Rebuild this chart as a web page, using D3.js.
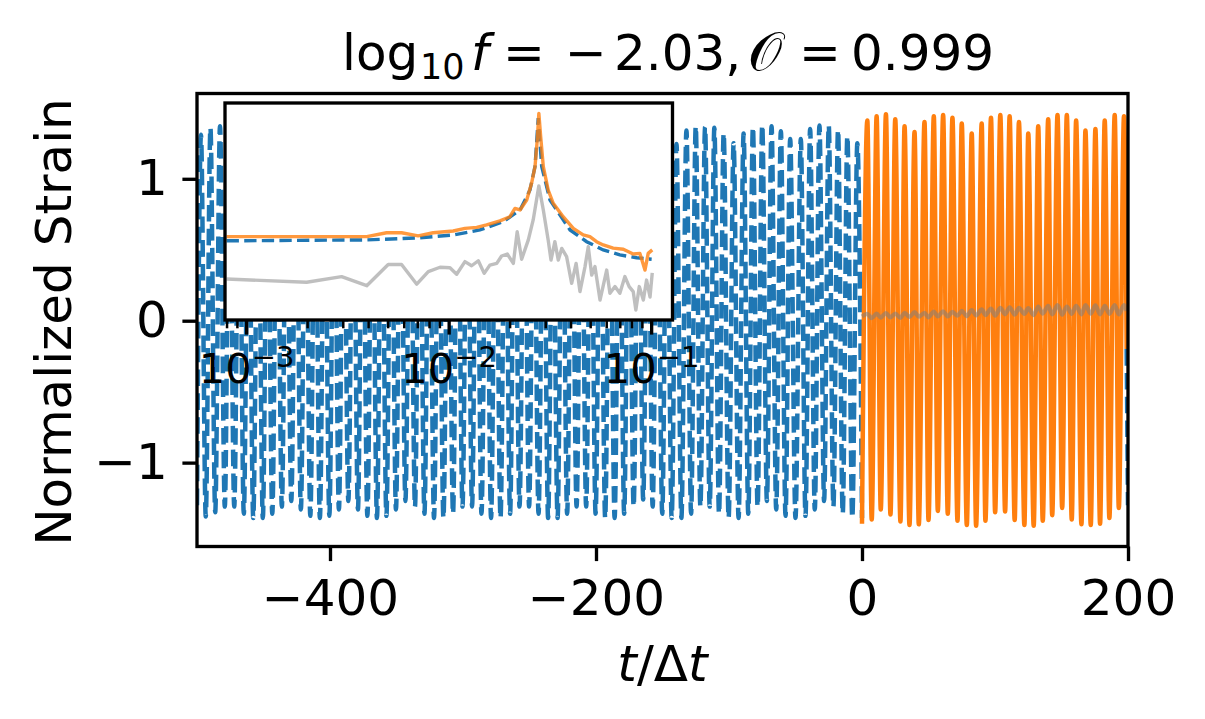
<!DOCTYPE html>
<html><head><meta charset="utf-8">
<script src="https://cdn.jsdelivr.net/npm/d3@7"></script>
<style>body{margin:0;background:#fff}svg{display:block}</style>
</head><body>
<svg id="c" width="1205" height="719"></svg>
<script>
// ---------------- data ----------------
const xTicks = [-400, -200, 0, 200];
const yTicks = [-1, 0, 1];
const insetMajorTicks = [1e-3, 1e-2, 1e-1];
const insetMajorExp = ["−3", "−2", "−1"];
const insetMinorTicks = [8e-4, 9e-4, 2e-3, 3e-3, 4e-3, 5e-3, 6e-3, 7e-3, 8e-3, 9e-3,
  2e-2, 3e-2, 4e-2, 5e-2, 6e-2, 7e-2, 8e-2, 9e-2];

// template (blue dashed): successive extrema [t, strain]
const blueExtrema = [[-500,-1.30],
[-497.0,1.31],[-493.4,-1.38],[-489.9,1.36],[-486.3,-1.35],[-482.7,1.37],[-479.1,-1.31],[-475.6,1.38],[-472.0,-1.31],
[-468.4,1.36],[-464.8,-1.36],[-461.3,1.32],[-457.7,-1.39],[-454.1,1.25],[-450.5,-1.39],[-447.0,1.32],[-443.4,-1.36],
[-439.8,1.36],[-436.2,-1.31],[-432.7,1.38],[-429.1,-1.27],[-425.5,1.375],[-421.9,-1.33],[-418.4,1.345],[-414.8,-1.375],
[-411.2,1.29],[-407.6,-1.39],[-404.1,1.29],[-400.5,-1.375],[-396.9,1.345],[-393.3,-1.33],[-389.8,1.375],[-386.2,-1.27],
[-382.6,1.375],[-379.0,-1.33],[-375.5,1.345],[-371.9,-1.375],[-368.3,1.29],[-364.7,-1.39],[-361.2,1.29],[-357.6,-1.375],
[-354.0,1.345],[-350.4,-1.33],[-346.9,1.375],[-343.3,-1.27],[-339.7,1.38],[-336.1,-1.31],[-332.6,1.36],[-329.0,-1.36],
[-325.4,1.32],[-321.8,-1.39],[-318.3,1.25],[-314.7,-1.39],[-311.1,1.32],[-307.5,-1.36],[-304.0,1.36],[-300.4,-1.31],
[-296.8,1.38],[-293.2,-1.31],[-289.7,1.36],[-286.1,-1.36],[-282.5,1.32],[-278.9,-1.39],[-275.4,1.25],[-271.8,-1.39],
[-268.2,1.32],[-264.6,-1.36],[-261.1,1.36],[-257.5,-1.31],[-253.9,1.38],[-250.3,-1.31],[-246.8,1.36],[-243.2,-1.36],
[-239.6,1.32],[-236.0,-1.39],[-232.5,1.25],[-228.9,-1.39],[-225.3,1.32],[-221.7,-1.36],[-218.2,1.36],[-214.6,-1.31],
[-211.0,1.38],[-207.4,-1.31],[-203.9,1.36],[-200.3,-1.36],[-196.7,1.32],[-193.1,-1.39],[-189.6,1.26],[-186.0,-1.39],
[-182.4,1.33],[-178.8,-1.36],[-175.3,1.365],[-171.7,-1.31],[-168.1,1.38],[-164.5,-1.26],[-161.0,1.38],[-157.4,-1.31],
[-153.8,1.36],[-150.2,-1.36],[-146.7,1.32],[-143.1,-1.39],[-139.5,1.245],[-135.8,-1.39],[-132,1.34],[-128.5,-1.36],
[-125,1.37],[-121.5,-1.31],[-118,1.365],[-114.5,-1.31],[-111,1.36],[-107.5,-1.36],[-104,1.32],[-100.3,-1.39],
[-96.5,1.25],[-92.8,-1.39],[-89,1.32],[-85.5,-1.36],[-82,1.365],[-78.5,-1.31],[-75,1.38],[-71.5,-1.27],
[-68,1.37],[-64.5,-1.33],[-61,1.335],[-57.5,-1.375],[-54,1.28],[-50,-1.39],[-46,1.28],[-42.5,-1.375],
[-39,1.35],[-35.5,-1.33],[-32,1.375],[-28.5,-1.27],[-25,1.375],[-21.5,-1.31],[-18,1.345],[-14.5,-1.36],
[-11,1.30],[-7.3,-1.39],[-3.5,1.25],[0,-1.39]];
const blueTail = [[199,-0.2],[200,-1.30]];

// prediction (orange): successive extrema [t, strain]
const orangeExtrema = [[0,-1.43],[4,1.41],[7.3,-1.40],[11,1.44],[14.1,-1.33],[18,1.455],[21.4,-1.365],[25,1.42],
[28.9,-1.415],[32,1.37],[35.7,-1.44],[39.5,1.33],[42.7,-1.435],[47,1.40],[50,-1.405],[54,1.44],[57,-1.34],[61,1.45],
[64.5,-1.36],[68,1.43],[71.8,-1.41],[75,1.39],[78.8,-1.44],[82.5,1.32],[85.8,-1.445],[90,1.39],[92.8,-1.41],[97,1.43],
[100.1,-1.35],[104,1.45],[107.6,-1.345],[111,1.44],[114.8,-1.405],[118,1.40],[122.1,-1.44],[125,1.32],[129.1,-1.445],
[132.5,1.37],[135.9,-1.41],[140,1.42],[143,-1.37],[147,1.45],[150.5,-1.32],[154,1.45],[157.7,-1.40],[161,1.41],
[165,-1.435],[168,1.34],[172,-1.44],[175.5,1.35],[179,-1.43],[182.5,1.41],[186,-1.39],[190,1.45],[193.1,-1.32],
[197,1.44],[199,-0.2]];

// residual (grey): successive extrema [t, strain]
const greyResidual = [[0,0.03],[4,0.048],[7.3,0.018],[11,0.05],[14.1,0.022],[18,0.054],[21.4,0.024],[25,0.05],
[28.9,0.02],[32,0.056],[35.7,0.026],[39.5,0.06],[42.7,0.028],[47,0.055],[50,0.024],[54,0.064],[57,0.03],[61,0.066],
[64.5,0.03],[68,0.062],[71.8,0.035],[75,0.07],[78.8,0.032],[82.5,0.075],[85.8,0.038],[90,0.08],[92.8,0.04],[97,0.085],
[100.1,0.036],[104,0.09],[107.6,0.045],[111,0.095],[114.8,0.042],[118,0.09],[122.1,0.048],[125,0.088],[129.1,0.04],
[132.5,0.1],[135.9,0.05],[140,0.105],[143,0.045],[147,0.11],[150.5,0.042],[154,0.1],[157.7,0.048],[161,0.105],
[165,0.045],[168,0.11],[172,0.05],[175.5,0.108],[179,0.045],[182.5,0.105],[186,0.048],[190,0.11],[193.1,0.044],
[197,0.11],[199,0.07]];

// inset spectra: [log10 f, relative level]
const insetBlue = [[-3.099,0.365],[-2.407,0.369],[-2.144,0.379],[-1.980,0.392],[-1.848,0.415],[-1.733,0.453],
[-1.650,0.507],[-1.601,0.599],[-1.576,0.707],[-1.560,0.93],[-1.543,0.707],[-1.502,0.553],[-1.403,0.415],
[-1.321,0.361],[-1.239,0.323],[-1.157,0.300],[-1.074,0.287],[-1.000,0.280]];
const insetOrange = [[-3.099,0.384],[-2.407,0.384],[-2.309,0.402],[-2.235,0.402],[-2.153,0.388],[-2.079,0.402],
[-1.980,0.410],[-1.922,0.422],[-1.864,0.427],[-1.815,0.438],[-1.749,0.457],[-1.700,0.476],[-1.675,0.514],
[-1.650,0.507],[-1.617,0.553],[-1.593,0.630],[-1.576,0.707],[-1.565,0.829],[-1.557,0.952],[-1.548,0.845],
[-1.535,0.707],[-1.511,0.599],[-1.486,0.538],[-1.437,0.476],[-1.387,0.422],[-1.338,0.392],[-1.305,0.384],
[-1.272,0.361],[-1.239,0.346],[-1.190,0.331],[-1.140,0.326],[-1.091,0.304],[-1.058,0.307],[-1.033,0.230],
[-1.017,0.307],[-0.997,0.323]];
const insetGrey = [[-3.099,0.189],[-2.704,0.174],[-2.531,0.200],[-2.407,0.158],[-2.301,0.256],[-2.235,0.256],
[-2.160,0.165],[-2.103,0.223],[-2.045,0.243],[-1.996,0.241],[-1.963,0.211],[-1.922,0.269],[-1.889,0.250],
[-1.856,0.273],[-1.827,0.215],[-1.799,0.253],[-1.765,0.261],[-1.741,0.295],[-1.713,0.304],[-1.683,0.261],
[-1.664,0.407],[-1.642,0.280],[-1.609,0.369],[-1.585,0.461],[-1.557,0.618],[-1.535,0.507],[-1.511,0.369],
[-1.497,0.276],[-1.478,0.361],[-1.461,0.276],[-1.444,0.330],[-1.420,0.292],[-1.395,0.169],[-1.373,0.261],
[-1.354,0.131],[-1.329,0.246],[-1.313,0.338],[-1.296,0.207],[-1.280,0.246],[-1.255,0.092],[-1.222,0.230],
[-1.206,0.123],[-1.181,0.154],[-1.157,0.123],[-1.132,0.200],[-1.111,0.154],[-1.091,0.131],[-1.078,0.046],
[-1.061,0.154],[-1.041,0.092],[-1.025,0.184],[-1.008,0.106],[-0.997,0.217]];

// ---------------- drawing ----------------
const FONT = "'DejaVu Sans', sans-serif";
const BLUE = "#1f77b4", ORANGE = "#ff7f0e";
const LW = 4.5, LWI = 3.4, SPINE = 3.33, FS = 50;
const svg = d3.select("#c").attr("font-family", FONT);
const P = {l: 197, r: 1128, t: 93.5, b: 546.5};
const I = {l: 225, r: 672.5, t: 103, b: 320};

const x = d3.scaleLinear().domain([-500, 200]).range([P.l, P.r]);
const y = d3.scaleLinear().domain([-1.591, 1.601]).range([P.b, P.t]);
const xi = d3.scaleLog().domain([Math.pow(10, -3.107), Math.pow(10, -0.897)]).range([I.l, I.r]);
const yi = d3.scaleLinear().domain([0, 1]).range([I.b, I.t]);

const defs = svg.append("defs");
defs.append("clipPath").attr("id", "clipMain").append("rect")
  .attr("x", P.l).attr("y", P.t).attr("width", P.r - P.l).attr("height", P.b - P.t);
defs.append("clipPath").attr("id", "clipInset").append("rect")
  .attr("x", I.l).attr("y", I.t).attr("width", I.r - I.l).attr("height", I.b - I.t);

const line = d3.line().x(d => x(d[0])).y(d => y(d[1])).curve(d3.curveMonotoneX);
const lineLin = d3.line().x(d => x(d[0])).y(d => y(d[1]));
const main = svg.append("g").attr("clip-path", "url(#clipMain)");

main.append("path").attr("d", line(blueExtrema)).attr("fill", "none").attr("stroke", BLUE)
  .attr("stroke-width", LW).attr("stroke-dasharray", "16.6,7.2").attr("stroke-linejoin", "round");
main.append("path").attr("d", lineLin(blueTail)).attr("fill", "none").attr("stroke", BLUE)
  .attr("stroke-width", LW).attr("stroke-dasharray", "16.6,7.2");
main.append("path").attr("d", line(orangeExtrema)).attr("fill", "none").attr("stroke", ORANGE)
  .attr("stroke-width", LW).attr("stroke-linejoin", "round");
main.append("path").attr("d", line(greyResidual)).attr("fill", "none").attr("stroke", "gray")
  .attr("stroke-opacity", 0.55).attr("stroke-width", 4.2).attr("stroke-linejoin", "round");

// axes
const fmt = d => (d < 0 ? "−" + Math.abs(d) : String(d));
const gx = svg.append("g").attr("transform", `translate(0,${P.b})`)
  .call(d3.axisBottom(x).tickValues(xTicks).tickSize(14.6).tickPadding(18).tickFormat(fmt));
const gy = svg.append("g").attr("transform", `translate(${P.l},0)`)
  .call(d3.axisLeft(y).tickValues(yTicks).tickSize(14.6).tickPadding(14.5).tickFormat(fmt));
[gx, gy].forEach(g => {
  g.select(".domain").remove();
  g.selectAll(".tick line").attr("stroke", "#000").attr("stroke-width", SPINE);
  g.selectAll(".tick text").attr("fill", "#000").attr("font-size", FS).attr("font-family", FONT);
});
svg.append("rect").attr("x", P.l).attr("y", P.t).attr("width", P.r - P.l).attr("height", P.b - P.t)
  .attr("fill", "none").attr("stroke", "#000").attr("stroke-width", SPINE);

// labels
svg.append("text").attr("x", (P.l + P.r) / 2).attr("y", 681).attr("text-anchor", "middle")
  .attr("font-size", FS).html('<tspan font-style="italic">t</tspan>/Δ<tspan font-style="italic">t</tspan>');
svg.append("text").attr("transform", "translate(71,322) rotate(-90)").attr("text-anchor", "middle")
  .attr("font-size", FS).text("Normalized Strain");
svg.append("text").attr("y", 70).attr("font-size", FS)
  .html('<tspan x="342">log</tspan><tspan x="420" dy="9" font-size="35">10</tspan>' +
        '<tspan x="471" dy="-9" font-style="italic">f</tspan><tspan x="503">=</tspan>' +
        '<tspan x="565">−</tspan><tspan x="614">2.03,</tspan>' +
        '<tspan x="748" font-size="54" font-family="\'DejaVu Sans\', \'Noto Sans\', serif">𝒪</tspan>' +
        '<tspan x="799">=</tspan><tspan x="851">0.999</tspan>');

// inset
const inset = svg.append("g");
inset.append("rect").attr("x", I.l).attr("y", I.t).attr("width", I.r - I.l).attr("height", I.b - I.t).attr("fill", "#fff");
const iline = d3.line().x(d => xi(Math.pow(10, d[0]))).y(d => yi(d[1]));
const ig = inset.append("g").attr("clip-path", "url(#clipInset)");
ig.append("path").attr("d", iline(insetBlue)).attr("fill", "none").attr("stroke", BLUE)
  .attr("stroke-width", LWI).attr("stroke-dasharray", "12.3,5.3");
ig.append("path").attr("d", iline(insetOrange)).attr("fill", "none").attr("stroke", ORANGE)
  .attr("stroke-opacity", 0.8).attr("stroke-width", LWI).attr("stroke-linejoin", "round");
ig.append("path").attr("d", iline(insetGrey)).attr("fill", "none").attr("stroke", "gray")
  .attr("stroke-opacity", 0.5).attr("stroke-width", LWI).attr("stroke-linejoin", "round");
inset.append("rect").attr("x", I.l).attr("y", I.t).attr("width", I.r - I.l).attr("height", I.b - I.t)
  .attr("fill", "none").attr("stroke", "#000").attr("stroke-width", SPINE);

inset.selectAll("line.minor").data(insetMinorTicks).join("line").attr("class", "minor")
  .attr("x1", d => xi(d)).attr("x2", d => xi(d)).attr("y1", I.b).attr("y2", I.b + 8.3)
  .attr("stroke", "#000").attr("stroke-width", 2.5);
inset.selectAll("line.major").data(insetMajorTicks).join("line").attr("class", "major")
  .attr("x1", d => xi(d)).attr("x2", d => xi(d)).attr("y1", I.b).attr("y2", I.b + 14.6)
  .attr("stroke", "#000").attr("stroke-width", SPINE);
inset.selectAll("text.tl").data(insetMajorTicks).join("text").attr("class", "tl")
  .attr("x", d => xi(d)).attr("y", 383).attr("text-anchor", "middle").attr("font-size", 41.67)
  .html((d, i) => `10<tspan font-size="29" dy="-16">${insetMajorExp[i]}</tspan>`);
</script>
</body></html>
